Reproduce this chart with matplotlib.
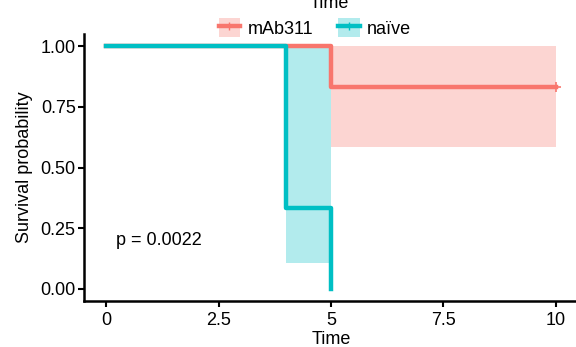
import matplotlib
matplotlib.use("Agg")
import matplotlib.pyplot as plt
from matplotlib.lines import Line2D
from matplotlib.patches import Patch

# Kaplan-Meier estimates
groups = ["mAb311", "naïve"]
colors = ["#F8766D", "#00BFC4"]

mab_time = [0, 5, 10]
mab_surv = [1.0, 0.833, 0.833]
mab_lower = [1.0, 0.584, 0.584]
mab_upper = [1.0, 1.0, 1.0]
mab_censor_time = [10]
mab_censor_surv = [0.833]

naive_time = [0, 4, 5]
naive_surv = [1.0, 0.333, 0.0]
naive_lower = [1.0, 0.107, 0.107]
naive_upper = [1.0, 1.0, 1.0]

pval_text = "p = 0.0022"
xticks = [0, 2.5, 5, 7.5, 10]
xtick_labels = ["0", "2.5", "5", "7.5", "10"]
yticks = [0, 0.25, 0.5, 0.75, 1.0]
ytick_labels = ["0.00", "0.25", "0.50", "0.75", "1.00"]

plt.rcParams["font.family"] = ["Liberation Sans", "DejaVu Sans"]
fs = 13

fig = plt.figure(figsize=(5.76, 3.47), dpi=100)
ax = fig.add_axes([84 / 576, 46 / 347, 494 / 576, 267 / 347])

lw = 3.2
ax.fill_between(mab_time, mab_lower, mab_upper, step="post",
                color=colors[0], alpha=0.3, linewidth=0)
ax.step(mab_time, mab_surv, where="post", color=colors[0], linewidth=lw)
ax.plot(mab_censor_time, mab_censor_surv, "+", color=colors[0],
        markersize=7, markeredgewidth=1.2)

ax.fill_between(naive_time, naive_lower, naive_upper, step="post",
                color=colors[1], alpha=0.3, linewidth=0)
ax.step(naive_time, naive_surv, where="post", color=colors[1], linewidth=lw)

ax.text(0.22, 0.2, pval_text, ha="left", va="center", fontsize=fs)

ax.set_xlim(-0.5, 10.5)
ax.set_ylim(-0.05, 1.05)
ax.set_xticks(xticks)
ax.set_xticklabels(xtick_labels)
ax.set_yticks(yticks)
ax.set_yticklabels(ytick_labels)
ax.tick_params(direction="out", length=4, width=1.5, labelsize=fs,
               colors="black", pad=2)
ax.tick_params(axis="x", pad=4)
ax.set_xlabel("Time", fontsize=fs, labelpad=1)
ax.set_ylabel("Survival probability", fontsize=fs, labelpad=5)

for side in ["top", "right"]:
    ax.spines[side].set_visible(False)
for side in ["left", "bottom"]:
    ax.spines[side].set_linewidth(1.8)

handles = [
    (Patch(facecolor=c, alpha=0.3, edgecolor="none"),
     Line2D([], [], color=c, linewidth=lw, marker="|", markersize=6,
            markeredgewidth=1))
    for c in colors
]
fig.legend(handles, groups, loc="center", ncol=2, frameon=False,
           bbox_to_anchor=(315 / 576, 1 - 28 / 347), fontsize=fs,
           handlelength=1.2, handleheight=1.2, handletextpad=0.4,
           columnspacing=1.4, borderpad=0)
fig.text(329 / 576, 1 - 4 / 347, "Time", ha="center", va="center", fontsize=fs)

fig.savefig("out.png", dpi=100)
